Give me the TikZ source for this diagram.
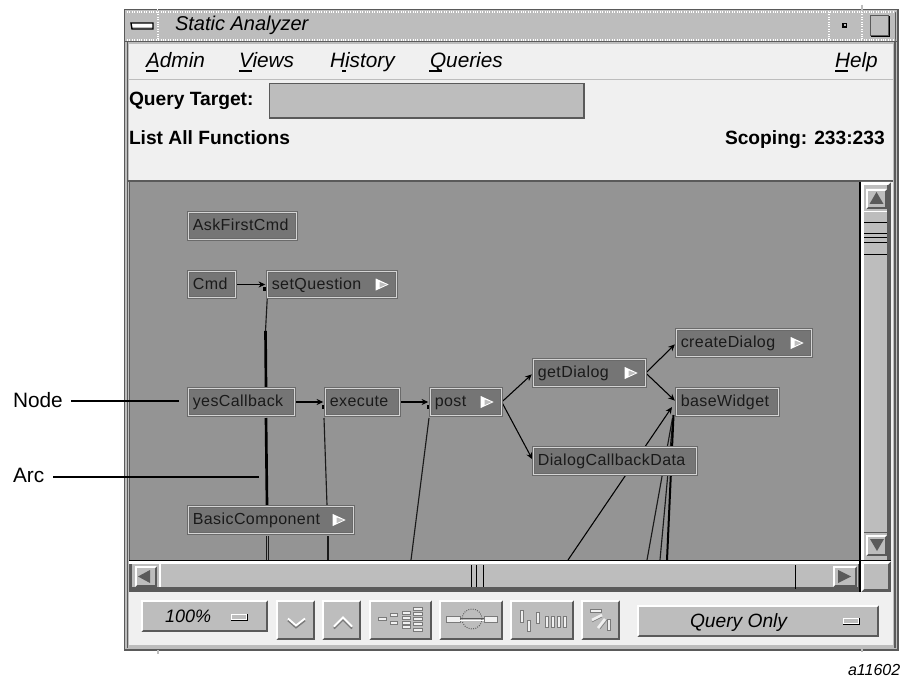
\documentclass[tikz,border=0pt]{standalone}
\usepackage{fontspec}
\setmainfont{Liberation Sans}
\newfontfamily\canvasfont[LetterSpace=2.6]{Liberation Sans}
\usetikzlibrary{arrows.meta,backgrounds,calc}
\definecolor{panel}{HTML}{F0F0F0}
\definecolor{ctl}{HTML}{BDBDBD}
\definecolor{canvasgrey}{HTML}{949494}
\definecolor{nodegrey}{HTML}{757575}
\definecolor{nodeedge}{HTML}{6A6A6A}
\definecolor{nodelight}{HTML}{D4D4D4}
\definecolor{dk}{HTML}{5A5A5A}
\definecolor{iconedge}{HTML}{7A7A7A}
\definecolor{ink}{HTML}{1A1A1A}
\tikzset{
  x=0.75pt,y=-0.75pt,
  fn/.style={rectangle,fill=nodegrey,draw=nodeedge,double=nodelight,double distance=1pt,line width=0.45pt,
    inner xsep=3.4pt,inner ysep=0pt,outer sep=0pt,align=left,text=ink,
    font=\canvasfont\fontsize{12}{13}\selectfont,text height=8.8pt,text depth=1.8pt},
  thinarc/.style={draw=ink,line width=0.85pt},
  thickarc/.style={draw=black,line width=2pt},
  arrowed/.style={draw=black,line width=0.8pt,shorten <=1pt,shorten >=1.5pt,-{Stealth[length=5pt,width=4.5pt]}},
  ui/.style={inner sep=0pt,outer sep=0pt,anchor=base west,text=black},
  titlefont/.style={font=\itshape\fontsize{15}{16}\selectfont},
  menufont/.style={font=\itshape\fontsize{15.6}{16}\selectfont},
  boldfont/.style={font=\bfseries\fontsize{14.4}{16}\selectfont},
  notefont/.style={font=\fontsize{15.6}{17}\selectfont},
  leader/.style={draw=black,line width=1pt},
  icon/.style={fill=panel,draw=iconedge,line width=0.4pt},
}
\newcommand\fnode[6]{%
  \pgfmathsetmacro\fnw{(#4-#2)*0.75-1.9}%
  \pgfmathsetmacro\fnh{(#5-#3)*0.75-1.9}%
  \pgfmathsetmacro\fnt{\fnw-6.8}%
  \node[fn,text width=\fnt pt,minimum width=\fnw pt,minimum height=\fnh pt] (#1) at ({(#2+#4)/2},{(#3+#5)/2}) {#6};}
\newcommand\fnflag[1]{%
  \fill[white] ($(#1.east)+(-21,-6)$) -- ($(#1.east)+(-8,0)$) -- ($(#1.east)+(-21,6)$) -- cycle;
  \fill[ctl] ($(#1.east)+(-17,-2.5)$) -- ($(#1.east)+(-10,0)$) -- ($(#1.east)+(-17,3)$) -- cycle;}
% bevel: x0 y0 x1 y1 width
\newcommand\bev[5]{%
  \fill[dk] (#1,#2) rectangle (#3,#4);
  \fill[white] (#1,#4) -- (#1,#2) -- (#3,#2) -- ({#3-#5},{#2+#5}) -- ({#1+#5},{#2+#5}) -- ({#1+#5},{#4-#5}) -- cycle;
  \fill[ctl] ({#1+#5},{#2+#5}) rectangle ({#3-#5},{#4-#5});}
\newcommand\dashicon[4]{%
  \fill[white] (#1,#2) rectangle (#3,#4);
  \fill[ctl] (#1+1,#2+1) rectangle (#3-1,#4-1);
  \draw[black,line width=0.6pt] (#1,#4) -- (#3,#4) -- (#3,#2);}
\newcommand\hb[3]{\draw[icon] (#1,#3-1.6) rectangle (#2,#3+1.6);}
\newcommand\vb[3]{\draw[icon] (#1-1.5,#2) rectangle (#1+1.5,#3);}
\begin{document}
\begin{tikzpicture}
\useasboundingbox (0,0) rectangle (902,677);
% ---------- graph nodes ----------
\fnode{askfirst}{187}{211}{298}{241}{AskFirstCmd}
\fnode{cmd}{187}{270}{237}{299}{Cmd}
\fnode{setq}{266}{270}{398}{299}{setQuestion}
\fnode{yes}{187}{387}{296}{417}{yesCallback}
\fnode{exec}{324}{387}{401}{417}{execute}
\fnode{post}{429}{387}{503}{417}{post}
\fnode{getd}{532}{358}{647}{388}{getDialog}
\fnode{created}{675}{328}{813}{358}{createDialog}
\fnode{basew}{675}{387}{780}{417}{baseWidget}
\fnode{dcd}{532}{446}{698}{476}{DialogCallbackData}
\fnode{basic}{187}{505}{355}{535}{BasicComponent}
\fnflag{setq}\fnflag{post}\fnflag{getd}\fnflag{created}\fnflag{basic}
% ---------- interface texts ----------
\node[ui,titlefont] (ttl) at (175,31) {Static Analyzer};
\node[ui,menufont] (madmin) at (146,68) {Admin};
\node[ui,menufont] (mviews) at (239,68) {Views};
\node[ui,menufont] (mhist) at (330,68) {History};
\node[ui,menufont] (mquer) at (430,68) {Queries};
\node[ui,menufont] (mhelp) at (835,68) {Help};
\node[ui,boldfont] (qt) at (129,106) {Query Target:};
\node[ui,boldfont] (laf) at (129,145) {List All Functions};
\node[ui,boldfont] (scop) at (725,145) {Scoping: 233:233};
\node[ui,font=\itshape\fontsize{13.5}{15}\selectfont] (zoomv) at (165,622) {100\%};
\node[ui,font=\itshape\fontsize{14.4}{16}\selectfont] (qonly) at (690,627) {Query Only};
\node[ui,font=\itshape\fontsize{12}{14}\selectfont] (fignum) at (848,675) {a11602};
\node[ui,notefont] (lnode) at (13,407) {Node};
\node[ui,notefont] (larc) at (13,482) {Arc};
% ---------- chrome and arcs beneath ----------
\begin{pgfonlayer}{background}
\fill[white] (0,0) rectangle (902,677);
% window frame
\fill[ctl] (124,9) rectangle (899,650);
\draw[dk,line width=1.3pt] (124.5,9.5) rectangle (898,650);
\draw[dk,line width=0.8pt] (127.5,12) -- (127.5,648);
\draw[dk,line width=0.8pt] (895,12) -- (895,648);
\fill[panel] (129,44) rectangle (893,645);
% title bar
\fill[ctl] (127,11) rectangle (895,41);
\draw[dk,line width=1.4pt] (124,41.5) -- (899,41.5);
\draw[white,line width=0.8pt,densely dotted] (127,12) -- (895,12);
\draw[white,line width=0.8pt,densely dotted] (127,40) -- (895,40);
\draw[white,line width=0.8pt,densely dotted] (158,12) -- (158,40);
\draw[white,line width=0.8pt,densely dotted] (829,12) -- (829,40);
\draw[white,line width=0.8pt,densely dotted] (862,12) -- (862,40);
\draw[white,line width=0.8pt] (157.5,5) -- (157.5,10);
\draw[ctl,line width=0.8pt] (862,5) -- (862,10);
\fill[white] (131,23) rectangle (153,27);
\draw[black,line width=1pt] (131,23) -- (153,23) -- (153,29) -- (132,29) -- cycle;
\fill[black] (842,23) rectangle (847,28);
\fill[ctl] (843.5,24) rectangle (845.5,26);
\draw[dk,line width=0.7pt] (870,15) rectangle (888,35);
\draw[black,line width=1.2pt] (871,36.5) -- (889.5,36.5) -- (889.5,16);
% menu bar
\draw[ctl,line width=1.2pt] (129,79.5) -- (893,79.5);
\fill[black] (146,70) rectangle (158,72);
\fill[black] (239,70) rectangle (252,72);
\fill[black] (342,70) rectangle (346,72);
\fill[black] (429,70) rectangle (442,72);
\fill[black] (835,70) rectangle (848,72);
% query field
\fill[ctl] (269,83) rectangle (584,118);
\draw[dk,line width=1pt] (269.5,118) -- (269.5,83.5) -- (584,83.5) -- (584,118) -- cycle;
% canvas
\fill[canvasgrey] (129,182) rectangle (860,560);
\draw[dk,line width=1.1pt] (128,181) -- (893,181);
\draw[dk,line width=0.6pt] (129,182) -- (129,560);
% vertical scrollbar
\fill[dk] (861,182) rectangle (891,561);
\fill[white] (861,182) -- (891,182) -- (888,185) -- (864,185) -- (864,561) -- (861,561) -- cycle;
\fill[ctl] (864,185) rectangle (887,560);
\bev{866}{189}{887}{209}{2}
\fill[dk] (869.5,204) -- (883.5,204) -- (876.5,192) -- cycle;
\fill[white] (864,211) rectangle (887,212.5);
\fill[dk] (864,531.5) rectangle (887,533);
\draw[black,line width=0.7pt] (864,222) -- (887,222);
\draw[black,line width=0.7pt] (864,233) -- (887,233);
\draw[black,line width=0.7pt] (864,237) -- (887,237);
\draw[black,line width=0.7pt] (864,242) -- (887,242);
\draw[black,line width=0.7pt] (864,254) -- (887,254);
\bev{866}{535}{887}{556}{2}
\fill[dk] (870,539) -- (884,539) -- (877,551) -- cycle;
\draw[black,line width=1pt] (860,182) -- (860,592);
% horizontal scrollbar
\fill[dk] (129,561) rectangle (860,592);
\fill[white] (129,561) rectangle (860,564);
\fill[ctl] (132,564) rectangle (858,587);
\bev{135}{566}{157}{587}{2}
\fill[dk] (138,576.5) -- (150,570) -- (150,583) -- cycle;
\fill[white] (159,564) rectangle (161,587);
\bev{833}{566}{857}{587}{2}
\fill[dk] (838,570) -- (851,576.5) -- (838,583) -- cycle;
\draw[black,line width=0.7pt] (471,565) -- (471,587);
\draw[black,line width=0.7pt] (476,565) -- (476,587);
\draw[black,line width=0.7pt] (483,565) -- (483,587);
\draw[black,line width=0.7pt] (795,565) -- (795,589);
\draw[black,line width=1pt] (129,560.5) -- (891,560.5);
\bev{861}{561}{891}{592}{3}
\draw[black,line width=0.8pt] (860,561) -- (860,592);
% toolbar
\bev{141}{600}{268}{632}{2}
\dashicon{231}{614}{247}{620}
\bev{276}{600}{315}{640}{2}
\bev{322}{600}{361}{640}{2}
\bev{369}{600}{432}{640}{2}
\bev{439}{600}{503}{640}{2}
\bev{510}{600}{574}{640}{2}
\bev{581}{600}{620}{640}{2}
\bev{637}{605}{879}{637}{2}
\dashicon{843}{618}{859}{624}
\draw[iconedge,line width=1.4pt] (288,620.5) -- (296,627.5) -- (305,620.5);
\draw[white,line width=1.4pt] (288,618.5) -- (296,625.5) -- (305,618.5);
\draw[iconedge,line width=1.4pt] (334,628.5) -- (343,619.5) -- (352,628.5);
\draw[white,line width=1.4pt] (334,626.5) -- (343,617.5) -- (352,626.5);
\hb{378}{386}{619}
\hb{390}{397}{615}\hb{390}{397}{623}
\hb{402}{410}{613}\hb{402}{410}{618}\hb{402}{410}{623}\hb{402}{410}{627}
\hb{413}{422}{609}\hb{413}{422}{614}\hb{413}{422}{619}\hb{413}{422}{624}\hb{413}{422}{630}
\draw[icon] (446,616) rectangle (460,622);
\draw[icon] (484,616) rectangle (497,622);
\draw[dk,line width=0.7pt,densely dotted] (472,619) circle (10);
\draw[dk,line width=0.7pt] (460,618) -- (484,618);
\draw[white,line width=0.5pt] (460,620) -- (484,620);
\vb{522}{610}{622}\vb{529}{620}{631}\vb{538}{612}{623}
\vb{547}{616}{627}\vb{553}{616}{627}\vb{559}{616}{627}\vb{565}{616}{627}
\hb{590}{601}{611}
\draw[panel,line width=2pt] (592,620) -- (602,615);
\draw[iconedge,line width=0.4pt] (592,622) -- (602,617);
\draw[panel,line width=2pt] (598,628) -- (605,619);
\draw[iconedge,line width=0.4pt] (600,629) -- (607,620);
\vb{609}{619}{630}
% ---------- arcs ----------
\coordinate (c1) at (265.5,331);
\coordinate (c2) at (266,387);
\coordinate (c3) at (266,418);
\coordinate (c4) at (267,505);
\coordinate (c5) at (266.5,536);
\coordinate (c6) at (266.5,560);
\coordinate (c7) at (268.5,536);
\coordinate (c8) at (268.5,560);
\coordinate (c9) at (324,418);
\coordinate (c10) at (327,505);
\coordinate (c11) at (328,536);
\coordinate (c12) at (328,560);
\coordinate (c13) at (429,418);
\coordinate (c14) at (411,560);
\coordinate (c15) at (568,560);
\coordinate (c16) at (647,560);
\coordinate (c17) at (660,560);
\coordinate (c18) at (667,560);
\coordinate (t1) at (672,407);
\coordinate (t2) at (672.5,418);
\coordinate (t3) at (673,418);
\coordinate (t4) at (673.5,415);
\draw[arrowed] (cmd.east) -- (setq.west);
\draw[arrowed] (yes.east) -- (exec.west);
\draw[arrowed] (exec.east) -- (post.west);
\draw[arrowed] (post.east) -- (getd.west);
\draw[arrowed] (post.east) -- (dcd.west);
\draw[arrowed] (getd.east) -- (created.west);
\draw[arrowed] (getd.east) -- (basew.west);
\draw[thinarc] (setq.south west) -- (c1);
\draw[thickarc] (c1) -- (c2);
\draw[thickarc] (c3) -- (c4);
\draw[thinarc] (c5) -- (c6);
\draw[thinarc] (c7) -- (c8);
\draw[thinarc] (c9) -- (c10);
\draw[thinarc] (c11) -- (c12);
\draw[thinarc] (c13) -- (c14);
\draw[arrowed,shorten <=0pt,shorten >=0pt] (c15) -- (t1);
\draw[thinarc] (c16) -- (t2);
\draw[thinarc] (c17) -- (t3);
\draw[thickarc,line width=1.5pt] (c18) -- (t4);
\fill[black] (263,287) rectangle (265.5,291);
\fill[black] (322,405) rectangle (324.5,409);
\fill[black] (427,405) rectangle (429.5,409);
% frame ticks
\draw[ctl,line width=0.8pt] (158,650) -- (158,654);
\draw[ctl,line width=0.8pt] (862,648) -- (862,652);
\end{pgfonlayer}
% ---------- leaders ----------
\coordinate (nodestart) at (71,401);
\coordinate (nodeend) at (179,401);
\coordinate (arcstart) at (53,477);
\coordinate (arcend) at (259,477);
\draw[leader] (nodestart) -- (nodeend);
\draw[leader] (arcstart) -- (arcend);
\end{tikzpicture}
\end{document}
